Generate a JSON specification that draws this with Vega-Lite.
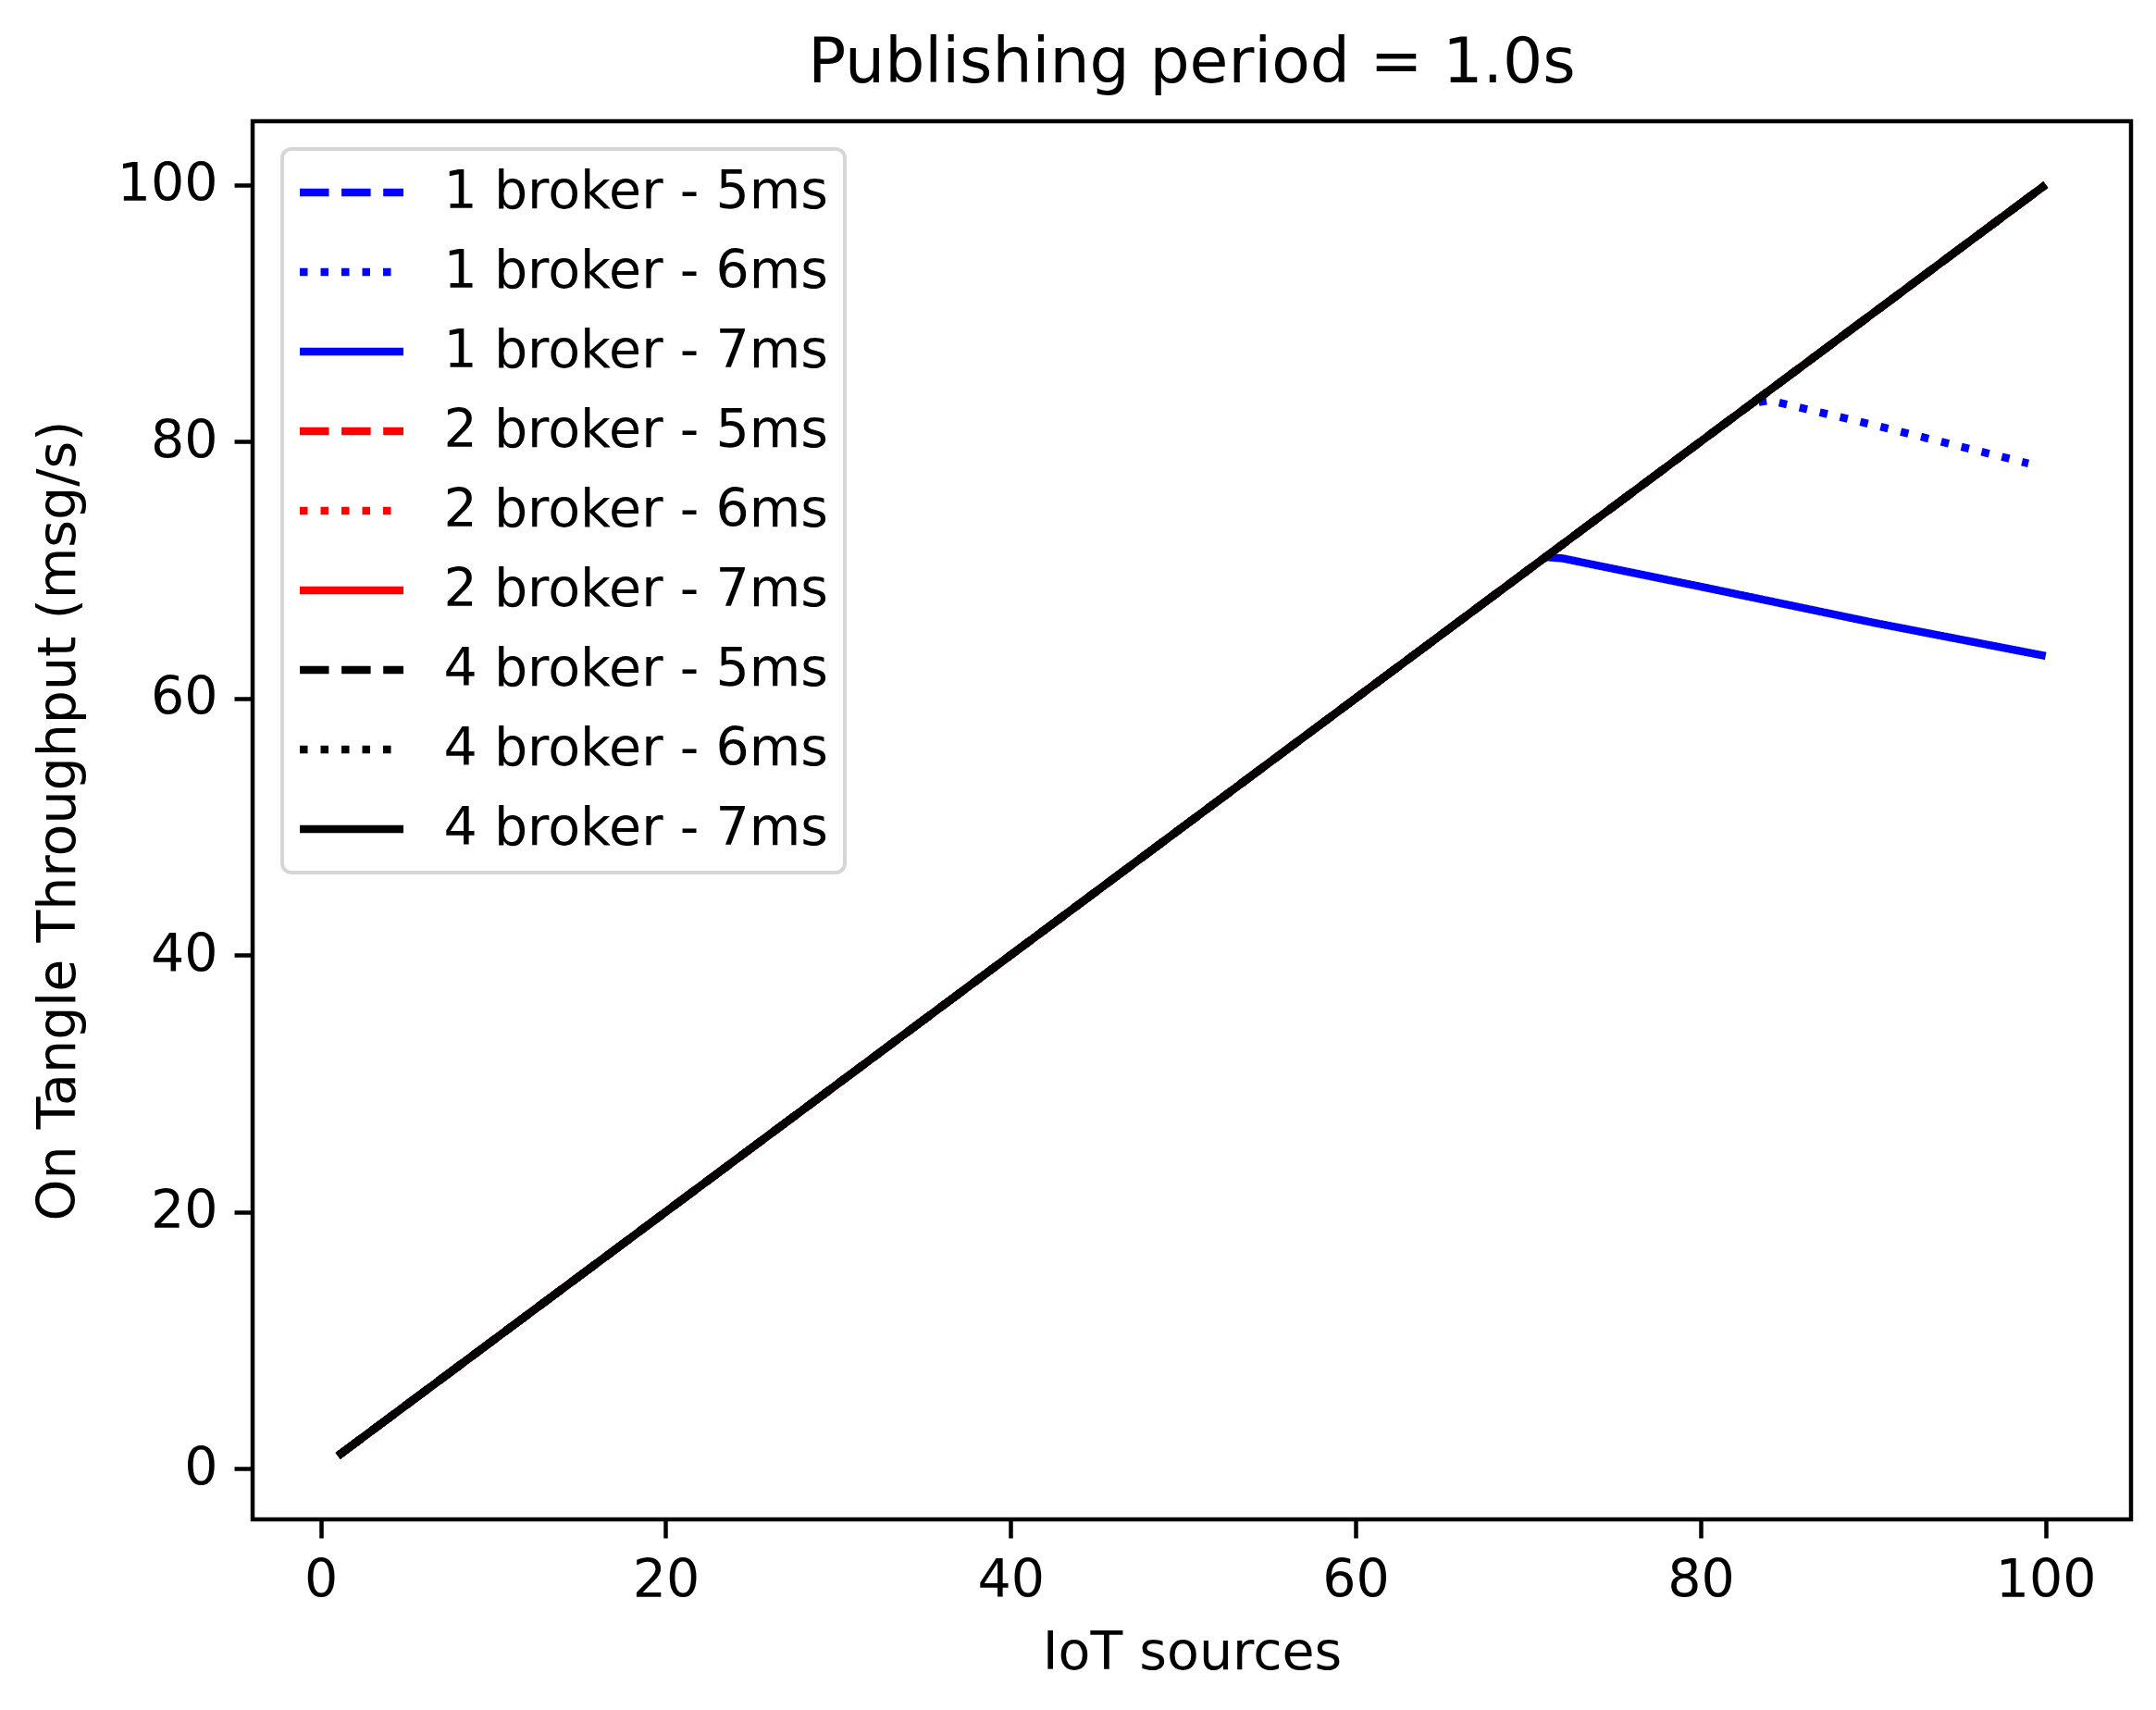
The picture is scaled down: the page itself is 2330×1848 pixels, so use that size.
{
  "$schema": "https://vega.github.io/schema/vega-lite/v6.json",
  "autosize": {"type": "none"},
  "padding": {"left": 273, "top": 131, "right": 27, "bottom": 206},
  "width": 2030,
  "height": 1511,
  "background": "white",
  "title": {"text": "Publishing period = 1.0s", "font": "DejaVu Sans", "fontSize": 68, "fontWeight": "normal", "color": "black", "baseline": "alphabetic", "offset": -26},
  "config": {
    "view": {"stroke": "black", "strokeWidth": 4.5},
    "axis": {"domain": false, "grid": false, "tickColor": "black", "tickSize": 20, "tickWidth": 4.5, "labelFont": "DejaVu Sans", "labelFontSize": 57, "labelColor": "black", "labelPadding": 18, "titleFont": "DejaVu Sans", "titleFontSize": 57, "titleFontWeight": "normal", "titleColor": "black"},
    "legend": {"labelFont": "DejaVu Sans", "labelFontSize": 57, "labelColor": "black", "labelLimit": 2000, "strokeWidth": 4}
  },
  "data": {"values": [
    {"series": "1 broker - 5ms", "x": 1, "y": 1}, {"series": "1 broker - 5ms", "x": 10, "y": 10}, {"series": "1 broker - 5ms", "x": 20, "y": 20}, {"series": "1 broker - 5ms", "x": 30, "y": 30}, {"series": "1 broker - 5ms", "x": 40, "y": 40}, {"series": "1 broker - 5ms", "x": 50, "y": 50}, {"series": "1 broker - 5ms", "x": 60, "y": 60}, {"series": "1 broker - 5ms", "x": 70, "y": 70}, {"series": "1 broker - 5ms", "x": 80, "y": 80}, {"series": "1 broker - 5ms", "x": 90, "y": 90}, {"series": "1 broker - 5ms", "x": 100, "y": 100},
    {"series": "1 broker - 6ms", "x": 1, "y": 1}, {"series": "1 broker - 6ms", "x": 10, "y": 10}, {"series": "1 broker - 6ms", "x": 20, "y": 20}, {"series": "1 broker - 6ms", "x": 30, "y": 30}, {"series": "1 broker - 6ms", "x": 40, "y": 40}, {"series": "1 broker - 6ms", "x": 50, "y": 50}, {"series": "1 broker - 6ms", "x": 60, "y": 60}, {"series": "1 broker - 6ms", "x": 70, "y": 70}, {"series": "1 broker - 6ms", "x": 80, "y": 80}, {"series": "1 broker - 6ms", "x": 83, "y": 83}, {"series": "1 broker - 6ms", "x": 84, "y": 83.2}, {"series": "1 broker - 6ms", "x": 90, "y": 81.3}, {"series": "1 broker - 6ms", "x": 99, "y": 78.3},
    {"series": "1 broker - 7ms", "x": 1, "y": 1}, {"series": "1 broker - 7ms", "x": 10, "y": 10}, {"series": "1 broker - 7ms", "x": 20, "y": 20}, {"series": "1 broker - 7ms", "x": 30, "y": 30}, {"series": "1 broker - 7ms", "x": 40, "y": 40}, {"series": "1 broker - 7ms", "x": 50, "y": 50}, {"series": "1 broker - 7ms", "x": 60, "y": 60}, {"series": "1 broker - 7ms", "x": 70, "y": 70}, {"series": "1 broker - 7ms", "x": 71, "y": 71}, {"series": "1 broker - 7ms", "x": 72, "y": 70.9}, {"series": "1 broker - 7ms", "x": 80, "y": 68.7}, {"series": "1 broker - 7ms", "x": 90, "y": 65.9}, {"series": "1 broker - 7ms", "x": 100, "y": 63.3},
    {"series": "2 broker - 5ms", "x": 1, "y": 1}, {"series": "2 broker - 5ms", "x": 10, "y": 10}, {"series": "2 broker - 5ms", "x": 20, "y": 20}, {"series": "2 broker - 5ms", "x": 30, "y": 30}, {"series": "2 broker - 5ms", "x": 40, "y": 40}, {"series": "2 broker - 5ms", "x": 50, "y": 50}, {"series": "2 broker - 5ms", "x": 60, "y": 60}, {"series": "2 broker - 5ms", "x": 70, "y": 70}, {"series": "2 broker - 5ms", "x": 80, "y": 80}, {"series": "2 broker - 5ms", "x": 90, "y": 90}, {"series": "2 broker - 5ms", "x": 100, "y": 100},
    {"series": "2 broker - 6ms", "x": 1, "y": 1}, {"series": "2 broker - 6ms", "x": 10, "y": 10}, {"series": "2 broker - 6ms", "x": 20, "y": 20}, {"series": "2 broker - 6ms", "x": 30, "y": 30}, {"series": "2 broker - 6ms", "x": 40, "y": 40}, {"series": "2 broker - 6ms", "x": 50, "y": 50}, {"series": "2 broker - 6ms", "x": 60, "y": 60}, {"series": "2 broker - 6ms", "x": 70, "y": 70}, {"series": "2 broker - 6ms", "x": 80, "y": 80}, {"series": "2 broker - 6ms", "x": 90, "y": 90}, {"series": "2 broker - 6ms", "x": 100, "y": 100},
    {"series": "2 broker - 7ms", "x": 1, "y": 1}, {"series": "2 broker - 7ms", "x": 10, "y": 10}, {"series": "2 broker - 7ms", "x": 20, "y": 20}, {"series": "2 broker - 7ms", "x": 30, "y": 30}, {"series": "2 broker - 7ms", "x": 40, "y": 40}, {"series": "2 broker - 7ms", "x": 50, "y": 50}, {"series": "2 broker - 7ms", "x": 60, "y": 60}, {"series": "2 broker - 7ms", "x": 70, "y": 70}, {"series": "2 broker - 7ms", "x": 80, "y": 80}, {"series": "2 broker - 7ms", "x": 90, "y": 90}, {"series": "2 broker - 7ms", "x": 100, "y": 100},
    {"series": "4 broker - 5ms", "x": 1, "y": 1}, {"series": "4 broker - 5ms", "x": 10, "y": 10}, {"series": "4 broker - 5ms", "x": 20, "y": 20}, {"series": "4 broker - 5ms", "x": 30, "y": 30}, {"series": "4 broker - 5ms", "x": 40, "y": 40}, {"series": "4 broker - 5ms", "x": 50, "y": 50}, {"series": "4 broker - 5ms", "x": 60, "y": 60}, {"series": "4 broker - 5ms", "x": 70, "y": 70}, {"series": "4 broker - 5ms", "x": 80, "y": 80}, {"series": "4 broker - 5ms", "x": 90, "y": 90}, {"series": "4 broker - 5ms", "x": 100, "y": 100},
    {"series": "4 broker - 6ms", "x": 1, "y": 1}, {"series": "4 broker - 6ms", "x": 10, "y": 10}, {"series": "4 broker - 6ms", "x": 20, "y": 20}, {"series": "4 broker - 6ms", "x": 30, "y": 30}, {"series": "4 broker - 6ms", "x": 40, "y": 40}, {"series": "4 broker - 6ms", "x": 50, "y": 50}, {"series": "4 broker - 6ms", "x": 60, "y": 60}, {"series": "4 broker - 6ms", "x": 70, "y": 70}, {"series": "4 broker - 6ms", "x": 80, "y": 80}, {"series": "4 broker - 6ms", "x": 90, "y": 90}, {"series": "4 broker - 6ms", "x": 100, "y": 100},
    {"series": "4 broker - 7ms", "x": 1, "y": 1}, {"series": "4 broker - 7ms", "x": 10, "y": 10}, {"series": "4 broker - 7ms", "x": 20, "y": 20}, {"series": "4 broker - 7ms", "x": 30, "y": 30}, {"series": "4 broker - 7ms", "x": 40, "y": 40}, {"series": "4 broker - 7ms", "x": 50, "y": 50}, {"series": "4 broker - 7ms", "x": 60, "y": 60}, {"series": "4 broker - 7ms", "x": 70, "y": 70}, {"series": "4 broker - 7ms", "x": 80, "y": 80}, {"series": "4 broker - 7ms", "x": 90, "y": 90}, {"series": "4 broker - 7ms", "x": 100, "y": 100}
  ]},
  "mark": {"type": "line", "strokeWidth": 8.5, "clip": true},
  "encoding": {
    "x": {"field": "x", "type": "quantitative", "scale": {"domain": [-3.95, 104.95], "nice": false, "zero": false},
      "axis": {"values": [0, 20, 40, 60, 80, 100], "title": "IoT sources", "titlePadding": 22}},
    "y": {"field": "y", "type": "quantitative", "scale": {"domain": [-3.95, 104.95], "nice": false, "zero": false},
      "axis": {"values": [0, 20, 40, 60, 80, 100], "title": "On Tangle Throughput (msg/s)", "titlePadding": 34}},
    "color": {"field": "series", "type": "nominal",
      "scale": {"domain": ["1 broker - 5ms", "1 broker - 6ms", "1 broker - 7ms", "2 broker - 5ms", "2 broker - 6ms", "2 broker - 7ms", "4 broker - 5ms", "4 broker - 6ms", "4 broker - 7ms"],
        "range": ["#0000ff", "#0000ff", "#0000ff", "#ff0000", "#ff0000", "#ff0000", "#000000", "#000000", "#000000"]},
      "legend": {"title": null, "orient": "none", "legendX": 32, "legendY": 30, "padding": 18, "fillColor": "white", "strokeColor": "#d6d6d6", "cornerRadius": 10,
        "symbolType": "stroke", "symbolSize": 12544, "symbolStrokeWidth": 8.5, "symbolOffset": -3.5, "labelOffset": 39, "clipHeight": 58, "rowPadding": 28}},
    "strokeDash": {"field": "series", "type": "nominal",
      "scale": {"domain": ["1 broker - 5ms", "1 broker - 6ms", "1 broker - 7ms", "2 broker - 5ms", "2 broker - 6ms", "2 broker - 7ms", "4 broker - 5ms", "4 broker - 6ms", "4 broker - 7ms"],
        "range": [[31.5, 13.6], [8.5, 14], [1, 0], [31.5, 13.6], [8.5, 14], [1, 0], [31.5, 13.6], [8.5, 14], [1, 0]]},
      "legend": {"title": null, "orient": "none", "legendX": 32, "legendY": 30, "padding": 18, "fillColor": "white", "strokeColor": "#d6d6d6", "cornerRadius": 10,
        "symbolType": "stroke", "symbolSize": 12544, "symbolStrokeWidth": 8.5, "symbolOffset": -3.5, "labelOffset": 39, "clipHeight": 58, "rowPadding": 28}}
  }
}
